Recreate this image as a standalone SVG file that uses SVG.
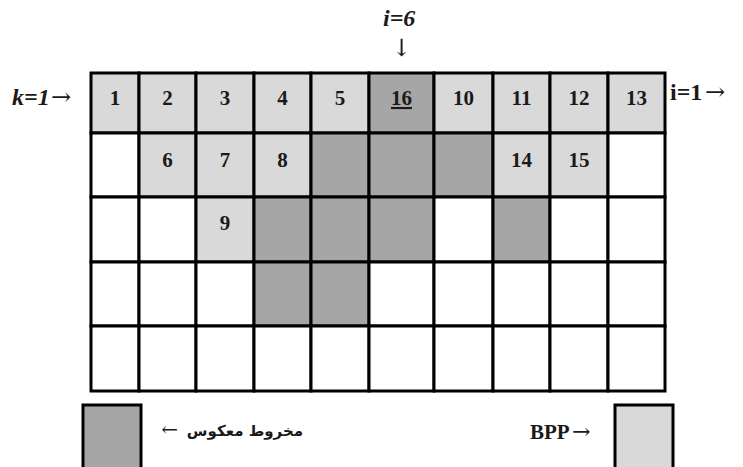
<svg xmlns="http://www.w3.org/2000/svg" width="743" height="467" viewBox="0 0 743 467">
<style>
.c rect{stroke:#000;stroke-width:3}
.w{fill:#fff}
.l{fill:#d9d9d9}
.d{fill:#a6a6a6}
.n{font-family:"Liberation Serif","Times New Roman",serif;font-weight:bold;font-size:21px;fill:#1a1a1a;text-anchor:middle}
.lab{font-family:"Liberation Serif","Times New Roman",serif;font-weight:bold;font-size:24px;fill:#1a1a1a}
.it{font-style:italic}
.ar{font-family:"DejaVu Serif",serif;font-weight:normal;font-style:normal;font-size:24px}
.fa{font-family:"DejaVu Sans","Noto Sans",sans-serif;font-weight:bold;font-size:15px;fill:#1a1a1a}
</style>
<rect width="743" height="467" fill="#fff"/>
<g id="grid" class="c">
<g id="r0">
<g id="c0-0"><rect class="l" x="91" y="73" width="48" height="60"/><text class="n" x="115" y="105">1</text></g>
<g id="c0-1"><rect class="l" x="139" y="73" width="57" height="60"/><text class="n" x="167.5" y="105">2</text></g>
<g id="c0-2"><rect class="l" x="196" y="73" width="58" height="60"/><text class="n" x="225" y="105">3</text></g>
<g id="c0-3"><rect class="l" x="254" y="73" width="57" height="60"/><text class="n" x="282.5" y="105">4</text></g>
<g id="c0-4"><rect class="l" x="311" y="73" width="58" height="60"/><text class="n" x="340" y="105">5</text></g>
<g id="c0-5"><rect class="d" x="369" y="73" width="65" height="60"/><text class="n" x="401.5" y="105" text-decoration="underline">16</text></g>
<g id="c0-6"><rect class="l" x="434" y="73" width="59" height="60"/><text class="n" x="463.5" y="105">10</text></g>
<g id="c0-7"><rect class="l" x="493" y="73" width="57" height="60"/><text class="n" x="521.5" y="105">11</text></g>
<g id="c0-8"><rect class="l" x="550" y="73" width="58" height="60"/><text class="n" x="579" y="105">12</text></g>
<g id="c0-9"><rect class="l" x="608" y="73" width="57" height="60"/><text class="n" x="636.5" y="105">13</text></g>
</g>
<g id="r1">
<g id="c1-0"><rect class="w" x="91" y="133" width="48" height="64"/></g>
<g id="c1-1"><rect class="l" x="139" y="133" width="57" height="64"/><text class="n" x="167.5" y="167">6</text></g>
<g id="c1-2"><rect class="l" x="196" y="133" width="58" height="64"/><text class="n" x="225" y="167">7</text></g>
<g id="c1-3"><rect class="l" x="254" y="133" width="57" height="64"/><text class="n" x="282.5" y="167">8</text></g>
<g id="c1-4"><rect class="d" x="311" y="133" width="58" height="64"/></g>
<g id="c1-5"><rect class="d" x="369" y="133" width="65" height="64"/></g>
<g id="c1-6"><rect class="d" x="434" y="133" width="59" height="64"/></g>
<g id="c1-7"><rect class="l" x="493" y="133" width="57" height="64"/><text class="n" x="521.5" y="167">14</text></g>
<g id="c1-8"><rect class="l" x="550" y="133" width="58" height="64"/><text class="n" x="579" y="167">15</text></g>
<g id="c1-9"><rect class="w" x="608" y="133" width="57" height="64"/></g>
</g>
<g id="r2">
<g id="c2-0"><rect class="w" x="91" y="197" width="48" height="65"/></g>
<g id="c2-1"><rect class="w" x="139" y="197" width="57" height="65"/></g>
<g id="c2-2"><rect class="l" x="196" y="197" width="58" height="65"/><text class="n" x="225" y="230">9</text></g>
<g id="c2-3"><rect class="d" x="254" y="197" width="57" height="65"/></g>
<g id="c2-4"><rect class="d" x="311" y="197" width="58" height="65"/></g>
<g id="c2-5"><rect class="d" x="369" y="197" width="65" height="65"/></g>
<g id="c2-6"><rect class="w" x="434" y="197" width="59" height="65"/></g>
<g id="c2-7"><rect class="d" x="493" y="197" width="57" height="65"/></g>
<g id="c2-8"><rect class="w" x="550" y="197" width="58" height="65"/></g>
<g id="c2-9"><rect class="w" x="608" y="197" width="57" height="65"/></g>
</g>
<g id="r3">
<g id="c3-0"><rect class="w" x="91" y="262" width="48" height="64"/></g>
<g id="c3-1"><rect class="w" x="139" y="262" width="57" height="64"/></g>
<g id="c3-2"><rect class="w" x="196" y="262" width="58" height="64"/></g>
<g id="c3-3"><rect class="d" x="254" y="262" width="57" height="64"/></g>
<g id="c3-4"><rect class="d" x="311" y="262" width="58" height="64"/></g>
<g id="c3-5"><rect class="w" x="369" y="262" width="65" height="64"/></g>
<g id="c3-6"><rect class="w" x="434" y="262" width="59" height="64"/></g>
<g id="c3-7"><rect class="w" x="493" y="262" width="57" height="64"/></g>
<g id="c3-8"><rect class="w" x="550" y="262" width="58" height="64"/></g>
<g id="c3-9"><rect class="w" x="608" y="262" width="57" height="64"/></g>
</g>
<g id="r4">
<g id="c4-0"><rect class="w" x="91" y="326" width="48" height="65"/></g>
<g id="c4-1"><rect class="w" x="139" y="326" width="57" height="65"/></g>
<g id="c4-2"><rect class="w" x="196" y="326" width="58" height="65"/></g>
<g id="c4-3"><rect class="w" x="254" y="326" width="57" height="65"/></g>
<g id="c4-4"><rect class="w" x="311" y="326" width="58" height="65"/></g>
<g id="c4-5"><rect class="w" x="369" y="326" width="65" height="65"/></g>
<g id="c4-6"><rect class="w" x="434" y="326" width="59" height="65"/></g>
<g id="c4-7"><rect class="w" x="493" y="326" width="57" height="65"/></g>
<g id="c4-8"><rect class="w" x="550" y="326" width="58" height="65"/></g>
<g id="c4-9"><rect class="w" x="608" y="326" width="57" height="65"/></g>
</g>
</g>
<g id="labels">
<text id="k1" class="lab it" x="12" y="105">k=1<tspan class="ar" x="51">→</tspan></text>
<text id="i1" class="lab" x="670" y="100">i=1<tspan class="ar" x="705">→</tspan></text>
<text id="i6" class="lab it" x="383" y="26">i=6</text>
<text id="down" class="lab ar" x="401.5" y="56" text-anchor="middle">↓</text>
</g>
<g id="legend" class="c">
<g id="leg-cone"><rect class="d" x="83" y="405" width="58" height="70"/><text class="fa" x="303" y="436" direction="rtl">مخروط معکوس<tspan class="ar" style="font-size:20px" x="178">←</tspan></text></g>
<g id="leg-bpp"><rect class="l" x="615" y="405" width="58" height="70"/><text class="lab" style="font-size:21px" x="530" y="439">BPP<tspan class="ar" style="font-size:22px" x="572">→</tspan></text></g>
</g>
</svg>
